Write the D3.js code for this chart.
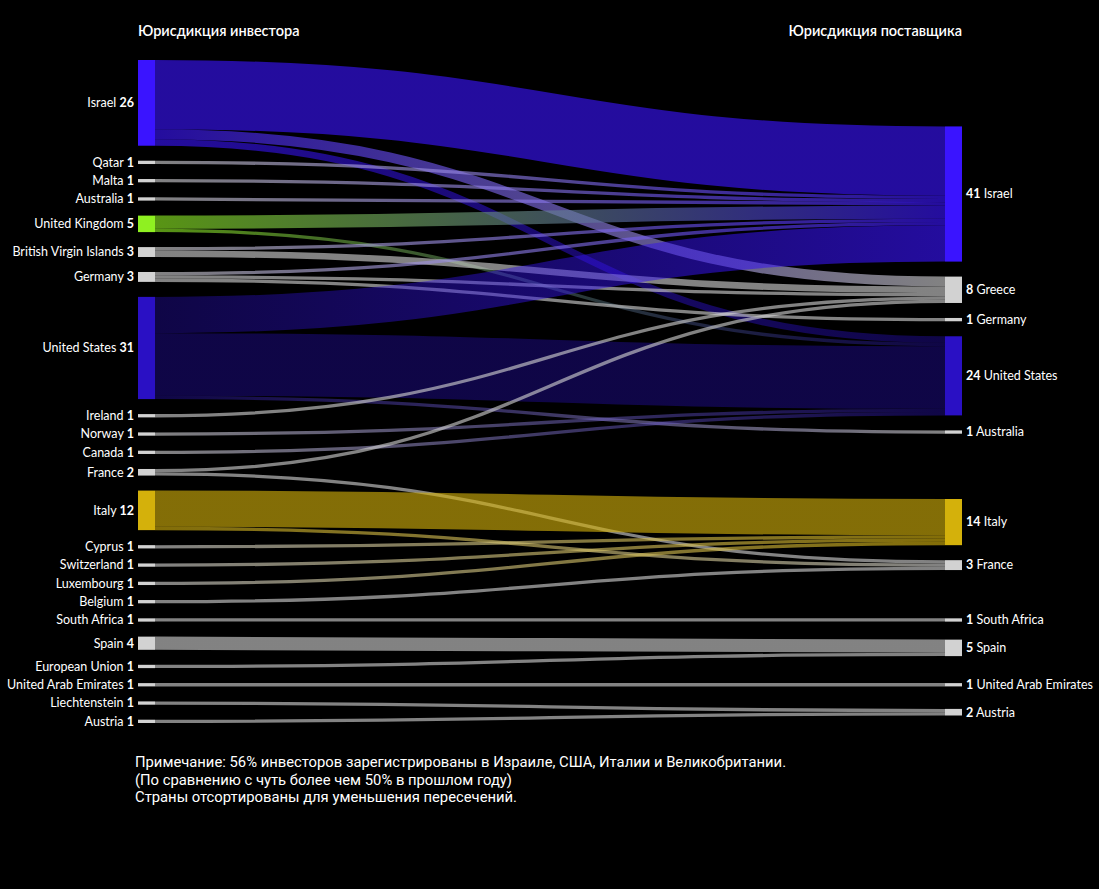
<!DOCTYPE html>
<html>
<head>
<meta charset="utf-8">
<script src="https://cdn.jsdelivr.net/npm/d3@7"></script>
<style>
  body { margin: 0; background: #000; }
  text { fill: #fff; }
</style>
</head>
<body>
<div id="chart"></div>
<script>
// investor side, in the order shown (sorted by hand to reduce crossings)
var investors = ["Israel", "Qatar", "Malta", "Australia", "United Kingdom", "British Virgin Islands",
  "Germany", "United States", "Ireland", "Norway", "Canada", "France", "Italy", "Cyprus",
  "Switzerland", "Luxembourg", "Belgium", "South Africa", "Spain", "European Union",
  "United Arab Emirates", "Liechtenstein", "Austria"];
var investorCounts = [26, 1, 1, 1, 5, 3, 3, 31, 1, 1, 1, 2, 12, 1, 1, 1, 1, 1, 4, 1, 1, 1, 1];

// supplier side
var suppliers = ["Israel", "Greece", "Germany", "United States", "Australia", "Italy", "France",
  "South Africa", "Spain", "United Arab Emirates", "Austria"];
var supplierCounts = [41, 8, 1, 24, 1, 14, 3, 1, 5, 1, 2];

// flows investor -> supplier
var flowFrom = ["Israel", "Israel", "Israel", "Qatar", "Malta", "Australia", "United Kingdom",
  "United Kingdom", "British Virgin Islands", "British Virgin Islands", "Germany", "Germany",
  "Germany", "United States", "United States", "United States", "Ireland", "Norway", "Canada",
  "France", "France", "Italy", "Italy", "Cyprus", "Switzerland", "Luxembourg", "Belgium",
  "South Africa", "Spain", "European Union", "United Arab Emirates", "Liechtenstein", "Austria"];
var flowTo = ["Israel", "Greece", "United States", "Israel", "Israel", "Israel", "Israel",
  "United States", "Israel", "Greece", "Israel", "Greece", "Germany", "Israel", "United States",
  "Australia", "Greece", "United States", "United States", "Greece", "France", "Italy", "France",
  "Italy", "Italy", "Italy", "France", "South Africa", "Spain", "Spain", "United Arab Emirates",
  "Austria", "Austria"];
var flowValue = [21, 3, 2, 1, 1, 1, 4, 1, 1, 2, 1, 1, 1, 11, 19, 1, 1, 1, 1, 1, 1, 11, 1, 1, 1, 1,
  1, 1, 4, 1, 1, 1, 1];

var titles = ["Юрисдикция инвестора", "Юрисдикция поставщика"];
var noteLines = [
  "Примечание: 56% инвесторов зарегистрированы в Израиле, США, Италии и Великобритании.",
  "(По сравнению с чуть более чем 50% в прошлом году)",
  "Страны отсортированы для уменьшения пересечений."
];

var colors = { "Israel": "#3a14ff", "United States": "#2a10c4", "United Kingdom": "#8ff021", "Italy": "#d4b10b" };
var grey = "#d2d2d2";
var linkAlpha = { "United States": 0.36 };

var W = 1099, H = 889;
var colTop = 60, colBottom = 723, pad = 15, nodeW = 17;
var leftX = 138, rightX = 945;
var font = "Lato, 'Open Sans', sans-serif";

function colorOf(name) { return colors[name] || grey; }
function alphaOf(name) { return linkAlpha[name] != null ? linkAlpha[name] : 0.62; }

var total = d3.sum(investorCounts);
var ky = (colBottom - colTop - (investors.length - 1) * pad) / total;
var size = d3.scaleLinear().domain([0, total]).range([0, total * ky]);

// left column: packed top to bottom
var left = [], y = colTop;
investors.forEach(function (n, i) {
  var h = size(investorCounts[i]);
  left.push({ name: n, value: investorCounts[i], y0: y, y1: y + h, out: [] });
  y += h + pad;
});
var leftBy = {};
left.forEach(function (d, i) { d.index = i; leftBy[d.name] = d; });

var right = suppliers.map(function (n, i) {
  return { name: n, value: supplierCounts[i], index: i, inc: [] };
});
var rightBy = {};
right.forEach(function (d) { rightBy[d.name] = d; });

var links = flowFrom.map(function (f, i) {
  var l = { source: leftBy[f], target: rightBy[flowTo[i]], value: flowValue[i], i: i };
  l.source.out.push(l);
  l.target.inc.push(l);
  return l;
});

// right column: centre each node on the weighted mean of its sources, then push overlaps down
right.forEach(function (d) {
  var c = d3.sum(d.inc, function (l) { return l.value * (l.source.y0 + l.source.y1) / 2; }) / d3.sum(d.inc, function (l) { return l.value; });
  var h = size(d.value);
  d.y0 = c - h / 2;
  d.y1 = c + h / 2;
});
var prev = colTop - pad;
right.forEach(function (d) {
  var h = d.y1 - d.y0;
  if (d.y0 < prev + pad) { d.y0 = prev + pad; d.y1 = d.y0 + h; }
  prev = d.y1;
});

// link offsets inside nodes
left.forEach(function (d) {
  d.out.sort(function (a, b) { return a.target.index - b.target.index; });
  var yy = d.y0;
  d.out.forEach(function (l) { l.w = size(l.value); l.sy = yy + l.w / 2; yy += l.w; });
});
right.forEach(function (d) {
  d.inc.sort(function (a, b) { return a.source.index - b.source.index; });
  var yy = d.y0;
  d.inc.forEach(function (l) { l.ty = yy + size(l.value) / 2; yy += size(l.value); });
});

var svg = d3.select("#chart").append("svg")
  .attr("width", W)
  .attr("height", H)
  .style("background", "#000")
  .style("font-family", font);

var defs = svg.append("defs");
links.forEach(function (l) {
  var g = defs.append("linearGradient")
    .attr("id", "grad" + l.i)
    .attr("gradientUnits", "userSpaceOnUse")
    .attr("x1", leftX + nodeW).attr("x2", rightX);
  g.append("stop").attr("offset", "0%")
    .attr("stop-color", colorOf(l.source.name)).attr("stop-opacity", alphaOf(l.source.name));
  g.append("stop").attr("offset", "100%")
    .attr("stop-color", colorOf(l.target.name)).attr("stop-opacity", alphaOf(l.target.name));
});

var linkPath = d3.linkHorizontal()
  .source(function (l) { return [leftX + nodeW, l.sy]; })
  .target(function (l) { return [rightX, l.ty]; });

svg.append("g")
  .attr("fill", "none")
  .selectAll("path")
  .data(links)
  .join("path")
  .attr("d", linkPath)
  .attr("stroke", function (l) { return "url(#grad" + l.i + ")"; })
  .attr("stroke-width", function (l) { return l.w; });

// nodes
svg.append("g").selectAll("rect")
  .data(left)
  .join("rect")
  .attr("x", leftX).attr("width", nodeW)
  .attr("y", function (d) { return d.y0; })
  .attr("height", function (d) { return d.y1 - d.y0; })
  .attr("fill", function (d) { return colorOf(d.name); });

svg.append("g").selectAll("rect")
  .data(right)
  .join("rect")
  .attr("x", rightX).attr("width", nodeW)
  .attr("y", function (d) { return d.y0; })
  .attr("height", function (d) { return d.y1 - d.y0; })
  .attr("fill", function (d) { return colorOf(d.name); });

// labels
var lt = svg.append("g").attr("font-size", 12.5).attr("text-anchor", "end")
  .selectAll("text")
  .data(left)
  .join("text")
  .attr("x", leftX - 4)
  .attr("y", function (d) { return (d.y0 + d.y1) / 2; })
  .attr("dy", "0.35em");
lt.append("tspan").text(function (d) { return d.name + " "; });
lt.append("tspan").attr("font-weight", "bold").text(function (d) { return d.value; });

var rt = svg.append("g").attr("font-size", 12.5)
  .selectAll("text")
  .data(right)
  .join("text")
  .attr("x", rightX + nodeW + 4)
  .attr("y", function (d) { return (d.y0 + d.y1) / 2; })
  .attr("dy", "0.35em");
rt.append("tspan").attr("font-weight", "bold").text(function (d) { return d.value; });
rt.append("tspan").text(function (d) { return " " + d.name; });

// column titles
svg.append("text")
  .attr("x", leftX).attr("y", 36)
  .attr("font-size", 14.5).attr("font-weight", 600)
  .text(titles[0]);
svg.append("text")
  .attr("x", rightX + nodeW).attr("y", 36)
  .attr("text-anchor", "end")
  .attr("font-size", 14.5).attr("font-weight", 600)
  .text(titles[1]);

// note under the chart
svg.append("g").selectAll("text")
  .data(noteLines)
  .join("text")
  .attr("x", 135)
  .attr("y", function (d, i) { return 767 + i * 17.5; })
  .attr("font-family", "Roboto, sans-serif")
  .attr("font-size", 14.8)
  .text(function (d) { return d; });
</script>
</body>
</html>
